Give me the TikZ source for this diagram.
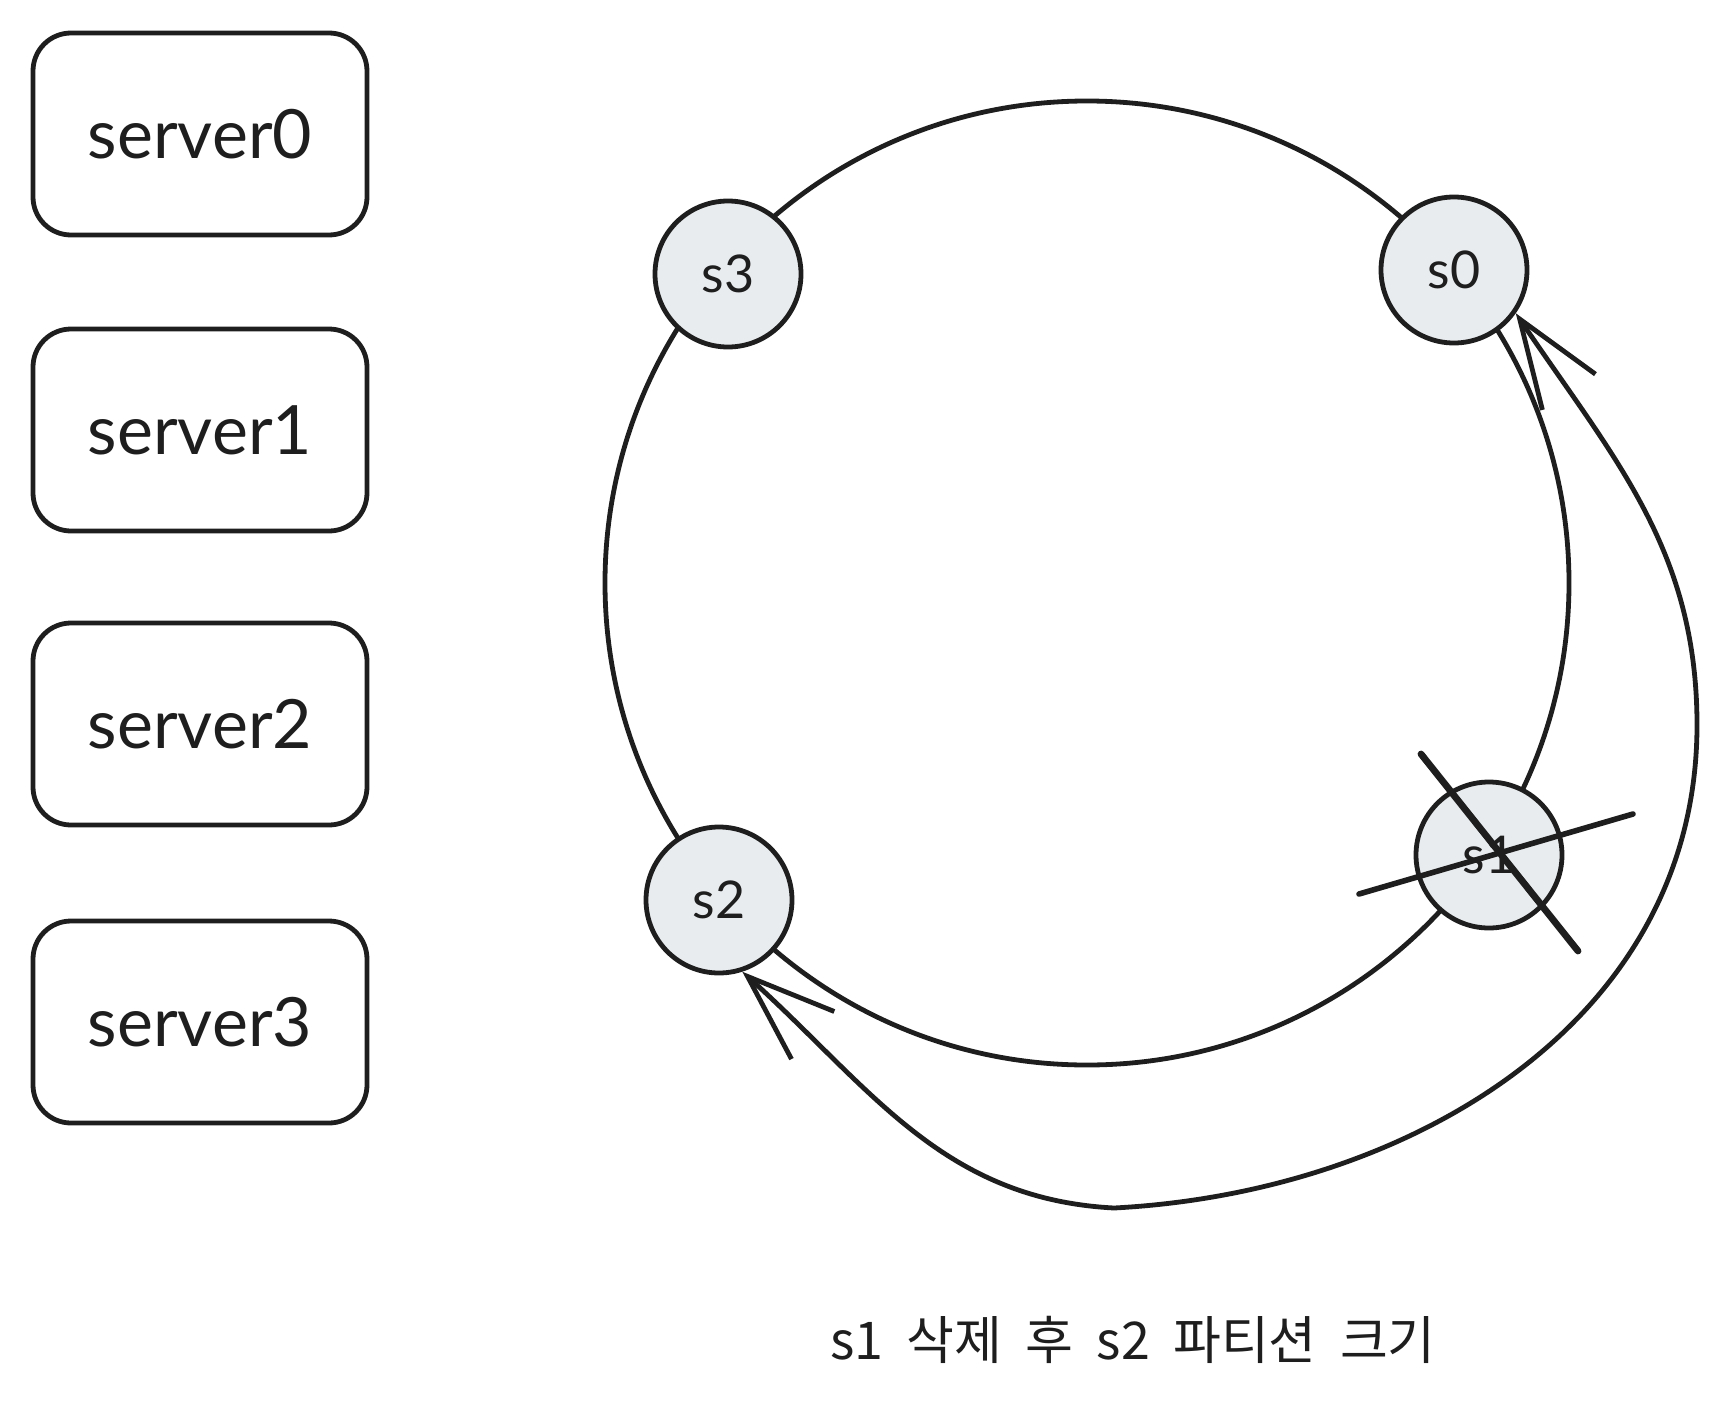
\documentclass[tikz,border=0pt]{standalone}
\usepackage{fontspec}
\setmainfont{Lato}
\newfontfamily\kr{Noto Sans CJK KR}
\usetikzlibrary{arrows.meta}
\definecolor{nodefill}{HTML}{E9ECEF}
\definecolor{ink}{HTML}{1E1E1E}
\tikzset{mybarb/.tip={Straight Barb[length=44pt,width=32pt]}}
\begin{document}
\begin{tikzpicture}[x=0.5pt,y=0.5pt, line width=2.4pt, line join=round, line cap=round, draw=ink, text=ink,
  server/.style={draw=ink, line width=2.4pt, rounded corners=19pt, minimum width=167pt, minimum height=101pt, inner sep=0pt, font=\fontsize{34}{40}\selectfont},
  ring/.style={draw=ink, line width=2.4pt, circle, fill=nodefill, minimum size=73pt, inner sep=0pt, font=\fontsize{26}{30}\selectfont}]
\useasboundingbox (0,0) rectangle (1730,-1408);
\node[server] (srv0) at (200,-134) {server0};
\node[server] (srv1) at (200,-430) {server1};
\node[server] (srv2) at (200,-724) {server2};
\node[server] (srv3) at (200,-1022) {server3};
\draw[ink] (1087,-583) circle[radius=241pt];
\node[ring] (s3) at (728,-274) {s3};
\node[ring] (s0) at (1454,-270) {s0};
\node[ring] (s2) at (719,-900) {s2};
\node[ring] (s1) at (1489,-855) {s1};
\coordinate (bot) at (1114,-1208);
\coordinate (rt) at (1697,-725);
\draw[ink, mybarb-mybarb] (s2.-72) to[out=-42,in=177] (bot) to[out=3,in=-90] (rt) to[out=90,in=-56] (s0.-35);
\coordinate (xa1) at (1421,-754);
\coordinate (xa2) at (1578,-951);
\coordinate (xb1) at (1359,-894);
\coordinate (xb2) at (1633,-814);
\draw[ink, line width=3.4pt] (xa1) -- (xa2);
\draw[ink, line width=2.8pt] (xb1) -- (xb2);
\node[font=\kr\fontsize{26}{30}\selectfont, text=ink] (cap) at (1133,-1340) {s1\ \ 삭제\ \ 후\ \ s2\ \ 파티션\ \ 크기};
\end{tikzpicture}
\end{document}
